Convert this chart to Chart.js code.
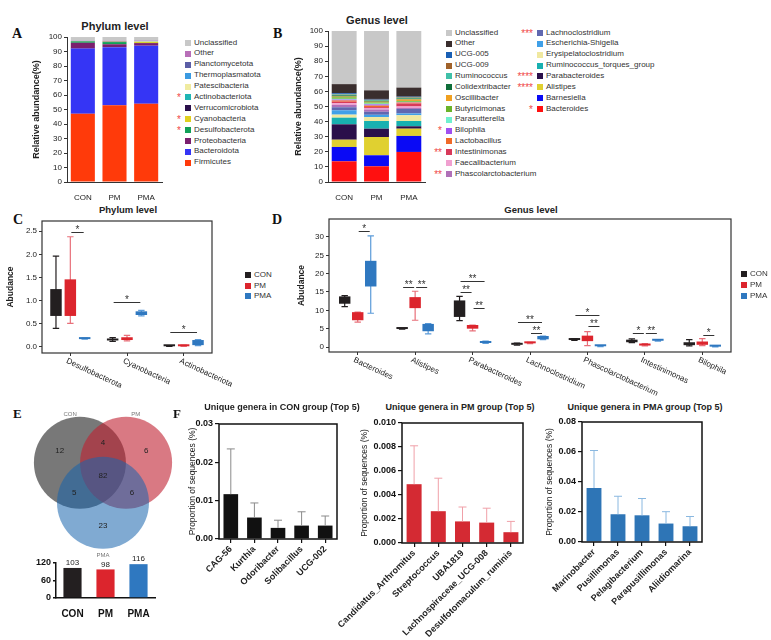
<!DOCTYPE html>
<html>
<head>
<meta charset="utf-8">
<title>Gut microbiota composition</title>
<script src="https://cdn.jsdelivr.net/npm/chart.js@4.4.1/dist/chart.umd.min.js"></script>
<style>
  body { margin: 0; width: 771px; height: 640px; position: relative; overflow: hidden; background: #fff;
         font-family: "Liberation Sans", Arial, sans-serif; color: #222; }
  canvas { position: absolute; }
  .letter { position: absolute; font: bold 14px "Liberation Serif", "Times New Roman", serif; line-height: 1; color: #111; }
  .title { position: absolute; font-weight: bold; line-height: 1; white-space: nowrap; transform: translateX(-50%); }
  .leg { position: absolute; font-size: 8px; color: #333; }
  .leg div { position: relative; padding-left: 9px; white-space: nowrap; }
  .leg i { position: absolute; left: 0; top: 50%; width: 6px; height: 6px; margin-top: -3px; }
  .leg b { position: absolute; right: 100%; top: 1px; margin-right: 4px; color: #f04848; font-weight: normal; font-size: 10px; }
</style>
</head>
<body>
<script>
// ---------- data ----------
const groups = ['CON', 'PM', 'PMA'];

// A: phylum level, stack order bottom -> top, values per group (%)
const phylumNames = ['Firmicutes', 'Bacteroidota', 'Proteobacteria', 'Desulfobacterota', 'Cyanobacteria',
  'Verrucomicrobiota', 'Actinobacteriota', 'Patescibacteria', 'Thermoplasmatota', 'Planctomycetota', 'Other', 'Unclassified'];
const phylumValues = [
  [47, 53, 54], [45, 40, 40], [4, 2, 1.8], [1, 1.5, 0.1], [0.15, 0.2, 0.7], [0.1, 0.2, 0.05],
  [0.02, 0.02, 0.1], [0.1, 0.1, 0.5], [0.05, 0.05, 0.05], [0.05, 0.05, 0.05], [0.3, 0.3, 0.3], [2.2, 2.6, 2.4]];
const phylumStars = ['', '', '', '*', '*', '', '*', '', '', '', '', ''];
const phylumColors = ['#ff3a0a', '#3535f5', '#7a1e6e', '#12a058', '#e0d020', '#2a0f4a',
  '#1fb5b5', '#f0eba0', '#3b9ae1', '#5b5ea6', '#b86fb8', '#c8c8c8'];

// B: genus level, stack order bottom -> top
const genusNames = ['Bacteroides', 'Barnesiella', 'Alistipes', 'Parabacteroides', 'Ruminococcus_torques_group',
  'Erysipelatoclostridium', 'Escherichia-Shigella', 'Lachnoclostridium', 'Phascolarctobacterium', 'Faecalibacterium',
  'Intestinimonas', 'Lactobacillus', 'Bilophila', 'Parasutterella', 'Butyricimonas', 'Oscillibacter',
  'Colidextribacter', 'Ruminococcus', 'UCG-009', 'UCG-005', 'Other', 'Unclassified'];
const genusValues = [
  [13.7, 10.4, 19.9], [9.5, 7.3, 10.6], [4.8, 12.1, 4.8], [10.2, 5.5, 1.6], [4.4, 5.1, 3.5],
  [2.0, 2.6, 3.8], [2.9, 1.5, 1.2], [2.0, 2.0, 3.0], [1.5, 1.5, 0.6], [1.2, 1.0, 1.0],
  [1.0, 0.6, 2.0], [0.8, 1.0, 0.6], [0.6, 0.8, 0.2], [0.5, 0.5, 0.3], [1.0, 0.8, 0.6], [0.5, 0.5, 1.0],
  [0.8, 0.6, 0.6], [0.5, 0.4, 0.5], [0.3, 0.3, 0.4], [0.6, 0.5, 0.3], [6.0, 5.7, 6.0], [35.2, 39.3, 37.5]];
const genusStars = ['*', '', '****', '****', '', '', '', '***', '**', '', '**', '', '*', '', '', '', '', '', '', '', '', ''];
const genusColors = ['#ff1010', '#0a0af5', '#e0d030', '#2a0f4a', '#18b0b0', '#f0e8a0', '#40a0e8', '#6068b0',
  '#b070b8', '#f0a0d0', '#d83a5a', '#f06a28', '#a050f0', '#6ff0d0', '#6ab42a', '#f0a020', '#0f6e3a',
  '#40c0a8', '#a0622a', '#1a5fb4', '#3a2e2e', '#c8c8c8'];

const pctTicks = [0, 10, 20, 30, 40, 50, 60, 70, 80, 90, 100];

// C: phylum boxes [min, q1, q3, max]
const cCats = ['Desulfobacterota', 'Cyanobacteria', 'Actinobacteriota'];
const cCON = [[0.40, 0.67, 1.25, 1.96], [0.12, 0.14, 0.17, 0.20], [0.01, 0.015, 0.025, 0.03]];
const cPM = [[0.51, 0.67, 1.46, 2.38], [0.13, 0.15, 0.21, 0.25], [0.01, 0.015, 0.03, 0.04]];
const cPMA = [[0.17, 0.17, 0.19, 0.19], [0.67, 0.69, 0.77, 0.79], [0.03, 0.04, 0.15, 0.16]];
const cTicks = [0, 0.5, 1, 1.5, 2, 2.5];
// significance: [category, group a, group b, height, label]
const cSig = [[0, 1, 2, 2.49, '*'], [1, 0, 2, 0.97, '*'], [2, 0, 2, 0.33, '*']];

// D: genus boxes [min, q1, q3, max]
const dCats = ['Bacteroides', 'Alistipes', 'Parabacteroides', 'Lachnoclostridium', 'Phascolarctobacterium', 'Intestinimonas', 'Bilophila'];
const dCON = [[11, 11.8, 13.8, 14], [4.9, 4.9, 5.1, 5.1], [7.2, 8.2, 12.7, 13.8], [0.5, 0.6, 1.0, 1.1],
  [1.8, 1.9, 2.1, 2.2], [1.2, 1.3, 2.0, 2.2], [0.3, 0.5, 1.3, 2.0]];
const dPM = [[6.8, 7.3, 9.5, 9.5], [7.3, 10.6, 13.6, 15.2], [4.4, 5.0, 6.0, 6.0], [0.9, 1.0, 1.2, 1.3],
  [0.4, 1.6, 3.1, 4.2], [0.3, 0.4, 0.8, 0.9], [0.4, 0.6, 1.5, 2.3]];
const dPMA = [[9.2, 16.5, 23.5, 30.3], [3.6, 4.3, 6.3, 6.4], [1.0, 1.1, 1.5, 1.6], [2.0, 2.1, 3.0, 3.0],
  [0.1, 0.2, 0.35, 0.4], [1.6, 1.7, 1.9, 2.0], [0.05, 0.1, 0.2, 0.3]];
const dTicks = [0, 5, 10, 15, 20, 25, 30];
const dSig = [[0, 1, 2, 31.7, '*'], [1, 0, 1, 16.4, '**'], [1, 1, 2, 16.4, '**'], [2, 0, 2, 18.0, '**'],
  [2, 0, 1, 15.1, '**'], [2, 1, 2, 10.5, '**'], [3, 0, 2, 6.7, '**'], [3, 1, 2, 3.9, '**'],
  [4, 0, 2, 8.6, '*'], [4, 1, 2, 5.7, '**'], [5, 0, 1, 3.7, '*'], [5, 1, 2, 3.7, '**'], [6, 1, 2, 3.3, '*']];

// E: venn regions and totals
const vennRegionSets = [[0], [1], [2], [0, 1], [0, 2], [1, 2], [0, 1, 2]];
const vennRegionCounts = [12, 6, 23, 4, 5, 6, 82];
const vennTotals = [103, 98, 116];
const eTicks = [0, 60, 120];

// F: unique genera, mean and SD
const fConNames = ['CAG-56', 'Kurthia', 'Odoribacter', 'Solibacillus', 'UCG-002'];
const fConMean = [0.0117, 0.0056, 0.0029, 0.0035, 0.0035];
const fConSd = [0.0118, 0.0038, 0.0020, 0.0036, 0.0025];
const fConTicks = [0, 0.01, 0.02, 0.03];
const fPmNames = ['Candidatus_Arthromitus', 'Streptococcus', 'UBA1819', 'Lachnospiraceae_UCG-008', 'Desulfotomaculum_ruminis'];
const fPmMean = [0.0049, 0.00265, 0.0018, 0.0017, 0.0009];
const fPmSd = [0.0032, 0.00275, 0.0012, 0.0012, 0.0009];
const fPmTicks = [0, 0.002, 0.004, 0.006, 0.008, 0.010];
const fPmaNames = ['Marinobacter', 'Pusillimonas', 'Pelagibacterium', 'Parapusillimonas', 'Aliidiomarina'];
const fPmaMean = [0.036, 0.0185, 0.0178, 0.0123, 0.0105];
const fPmaSd = [0.025, 0.012, 0.0112, 0.0079, 0.0065];
const fPmaTicks = [0, 0.02, 0.04, 0.06, 0.08];

// ---------- styles ----------
const groupFill = ['#231f20', '#dc252d', '#2f78c0'];
const groupWhisker = ['#231f20', '#e8707a', '#5b9bd9'];
const FONT = '"Liberation Sans", Arial, sans-serif';

Chart.defaults.font.family = FONT;
Chart.defaults.font.size = 8;
Chart.defaults.color = '#222';
Chart.defaults.animation = false;
Chart.defaults.responsive = false;
Chart.defaults.events = [];
Chart.defaults.plugins.legend.display = false;
Chart.defaults.plugins.tooltip.enabled = false;

// ---------- helpers ----------
function makeCanvas(left, top, w, h) {
  const c = document.createElement('canvas');
  c.width = w; c.height = h;
  c.style.left = left + 'px'; c.style.top = top + 'px';
  document.body.appendChild(c);
  return c;
}

function addText(cls, text, left, top, size) {
  const d = document.createElement('div');
  d.className = cls;
  d.textContent = text;
  d.style.left = left + 'px'; d.style.top = top + 'px';
  if (size) d.style.fontSize = size + 'px';
  document.body.appendChild(d);
}

function htmlLegend(left, top, rowH, idx, names, colors, stars) {
  const box = document.createElement('div');
  box.className = 'leg';
  box.style.left = left + 'px'; box.style.top = top + 'px';
  idx.forEach(i => {
    const row = document.createElement('div');
    row.style.height = rowH + 'px'; row.style.lineHeight = rowH + 'px';
    row.innerHTML = (stars && stars[i] ? '<b>' + stars[i] + '</b>' : '') +
      '<i style="background:' + colors[i] + '"></i>' + names[i];
    box.appendChild(row);
  });
  document.body.appendChild(box);
}

// y title placed so its centre sits at absolute x
function yTitle(text, x, canvasLeft, size, bold) {
  return { display: true, text: text, font: { size: size, weight: bold ? 'bold' : 'normal' },
           padding: { top: x - canvasLeft - size * 0.6, bottom: 0 } };
}

const ticksFrom = arr => s => { s.ticks = arr.map(value => ({ value })); };

const framePlugin = {
  id: 'frame',
  afterDraw(chart, args, opts) {
    const a = chart.chartArea, c = chart.ctx;
    c.save();
    c.strokeStyle = opts.color || '#333';
    c.lineWidth = opts.width || 1;
    c.strokeRect(a.left, a.top, a.right - a.left, a.bottom - a.top);
    c.restore();
  }
};

const whiskerPlugin = {
  id: 'whiskers',
  beforeDatasetsDraw(chart) {
    const c = chart.ctx, y = chart.scales.y;
    chart.data.datasets.forEach((ds, i) => {
      if (!ds.whiskers) return;
      c.save();
      c.strokeStyle = ds.whiskerColor;
      c.lineWidth = 1.2;
      chart.getDatasetMeta(i).data.forEach((bar, j) => {
        const lo = y.getPixelForValue(ds.whiskers[j][0]);
        const hi = y.getPixelForValue(ds.whiskers[j][1]);
        const cap = bar.width * 0.28;
        c.beginPath();
        c.moveTo(bar.x, lo); c.lineTo(bar.x, hi);
        c.moveTo(bar.x - cap, lo); c.lineTo(bar.x + cap, lo);
        c.moveTo(bar.x - cap, hi); c.lineTo(bar.x + cap, hi);
        c.stroke();
      });
      c.restore();
    });
  }
};

const sigPlugin = {
  id: 'sigBars',
  afterDatasetsDraw(chart, args, opts) {
    const c = chart.ctx, y = chart.scales.y;
    c.save();
    c.strokeStyle = '#333'; c.fillStyle = '#333'; c.lineWidth = 1;
    c.font = '10px ' + FONT; c.textAlign = 'center'; c.textBaseline = 'bottom';
    (opts.marks || []).forEach(m => {
      const xa = chart.getDatasetMeta(m[1]).data[m[0]].x + 1;
      const xb = chart.getDatasetMeta(m[2]).data[m[0]].x - 1;
      const py = Math.round(y.getPixelForValue(m[3])) + 0.5;
      c.beginPath(); c.moveTo(xa, py); c.lineTo(xb, py); c.stroke();
      c.fillText(m[4], (xa + xb) / 2, py + 3);
    });
    c.restore();
  }
};

const slantLabels = {
  id: 'slantLabels',
  afterDraw(chart) {
    const x = chart.scales.x, a = chart.chartArea, c = chart.ctx;
    c.save();
    c.fillStyle = '#222'; c.font = '8px ' + FONT; c.textAlign = 'left'; c.textBaseline = 'top';
    chart.data.labels.forEach((lab, i) => {
      c.save();
      c.translate(x.getPixelForTick(i) - 2, a.bottom + 4);
      c.rotate(25 * Math.PI / 180);
      c.fillText(lab, 0, 0);
      c.restore();
    });
    c.restore();
  }
};

const errorBars = {
  id: 'errorBars',
  afterDatasetsDraw(chart) {
    const c = chart.ctx, y = chart.scales.y;
    chart.data.datasets.forEach((ds, i) => {
      if (!ds.sd) return;
      c.save();
      c.strokeStyle = ds.sdColor; c.lineWidth = 1;
      chart.getDatasetMeta(i).data.forEach((bar, j) => {
        const top = y.getPixelForValue(ds.data[j] + ds.sd[j]);
        c.beginPath();
        c.moveTo(bar.x, bar.y); c.lineTo(bar.x, top);
        c.moveTo(bar.x - 4, top); c.lineTo(bar.x + 4, top);
        c.stroke();
      });
      c.restore();
    });
  }
};

const barValues = {
  id: 'barValues',
  afterDatasetsDraw(chart) {
    const c = chart.ctx, ds = chart.data.datasets[0];
    c.save();
    c.font = '8px ' + FONT; c.fillStyle = '#222'; c.textAlign = 'center'; c.textBaseline = 'bottom';
    chart.getDatasetMeta(0).data.forEach((bar, i) => c.fillText(ds.data[i], bar.x, bar.y - 1));
    c.restore();
  }
};

// ---------- A ----------
addText('letter', 'A', 12, 27);
addText('title', 'Phylum level', 115, 21, 11);
new Chart(makeCanvas(0, 0, 170, 200), {
  type: 'bar',
  data: {
    labels: groups,
    datasets: phylumNames.map((n, i) => ({ label: n, data: phylumValues[i], backgroundColor: phylumColors[i],
      borderWidth: 0, barPercentage: 0.76, categoryPercentage: 1 }))
  },
  options: {
    layout: { padding: { left: 0, top: 37, right: 8, bottom: 0 } },
    scales: {
      x: { stacked: true, grid: { display: false }, border: { color: '#333' }, ticks: { padding: 3 },
           afterFit: s => { s.height = 18; s.paddingLeft = s.paddingRight = 0; } },
      y: { stacked: true, min: 0, max: 100, afterBuildTicks: ticksFrom(pctTicks), ticks: { padding: 2 },
           grid: { drawOnChartArea: false, tickLength: 3, color: '#333' }, border: { color: '#333' },
           title: yTitle('Relative abundance(%)', 37, 0, 9, true),
           afterFit: s => { s.width = 67; s.paddingTop = s.paddingBottom = 0; } }
    }
  }
});
htmlLegend(185, 37.5, 10.9, phylumNames.map((n, i) => i).reverse(), phylumNames, phylumColors, phylumStars);

// ---------- B ----------
addText('letter', 'B', 273, 27);
addText('title', 'Genus level', 377, 15, 11);
new Chart(makeCanvas(280, 0, 150, 200), {
  type: 'bar',
  data: {
    labels: groups,
    datasets: genusNames.map((n, i) => ({ label: n, data: genusValues[i], backgroundColor: genusColors[i],
      borderWidth: 0, barPercentage: 0.77, categoryPercentage: 1 }))
  },
  options: {
    layout: { padding: { left: 0, top: 31, right: 5, bottom: 0 } },
    scales: {
      x: { stacked: true, grid: { display: false }, border: { color: '#333' }, ticks: { padding: 3 },
           afterFit: s => { s.height = 18; s.paddingLeft = s.paddingRight = 0; } },
      y: { stacked: true, min: 0, max: 100, afterBuildTicks: ticksFrom(pctTicks), ticks: { padding: 2 },
           grid: { drawOnChartArea: false, tickLength: 3, color: '#333' }, border: { color: '#333' },
           title: yTitle('Relative abundance(%)', 299, 280, 9, true),
           afterFit: s => { s.width = 48; s.paddingTop = s.paddingBottom = 0; } }
    }
  }
});
const genusOrder = genusNames.map((n, i) => i).reverse();
htmlLegend(446, 27.6, 10.85, genusOrder.slice(0, 14), genusNames, genusColors, genusStars);
htmlLegend(537, 27.6, 10.85, genusOrder.slice(14), genusNames, genusColors, genusStars);

// ---------- C / D box plots ----------
function boxDatasets(boxSets) {
  return boxSets.map((boxes, g) => ({
    label: groups[g],
    data: boxes.map(b => [b[1], b[2]]),
    whiskers: boxes.map(b => [b[0], b[3]]),
    backgroundColor: groupFill[g], borderWidth: 0, minBarLength: 2,
    whiskerColor: groupWhisker[g]
  }));
}

function boxChart(left, top, w, h, o) {
  new Chart(makeCanvas(left, top, w, h), {
    type: 'bar',
    data: { labels: o.cats, datasets: boxDatasets(o.boxes) },
    options: {
      layout: { padding: { left: 0, top: o.padTop, right: o.padRight, bottom: 0 } },
      datasets: { bar: { categoryPercentage: o.catPct, barPercentage: o.barPct } },
      scales: {
        x: { ticks: { display: false }, grid: { offset: false, drawOnChartArea: false, tickLength: 3, color: '#333' },
             border: { display: false },
             afterFit: s => { s.height = o.xH; s.paddingLeft = s.paddingRight = 0; } },
        y: { min: o.yMin, max: o.yMax, afterBuildTicks: ticksFrom(o.ticks),
             ticks: { callback: o.fmt, padding: 2 },
             grid: { drawOnChartArea: false, tickLength: 3, color: '#333' }, border: { display: false },
             title: yTitle('Abudance', o.titleX, left, 8.5, true),
             afterFit: s => { s.width = o.yW; s.paddingTop = s.paddingBottom = 0; } }
      },
      plugins: { sigBars: { marks: o.sigs }, frame: { color: '#333', width: 1.2 } }
    },
    plugins: [whiskerPlugin, sigPlugin, slantLabels, framePlugin]
  });
}

addText('letter', 'C', 13, 213);
addText('title', 'Phylum level', 128, 205, 9.5);
boxChart(0, 205, 245, 190, {
  cats: cCats, boxes: [cCON, cPM, cPMA], sigs: cSig, yMin: -0.13, yMax: 2.72, ticks: cTicks,
  fmt: v => v.toFixed(1), titleX: 11, yW: 42, xH: 42, padTop: 16, padRight: 33, catPct: 0.76, barPct: 0.8
});
htmlLegend(245, 270, 10.5, [0, 1, 2], groups, groupFill, null);

addText('letter', 'D', 272, 213);
addText('title', 'Genus level', 531, 205, 9.5);
boxChart(280, 205, 480, 195, {
  cats: dCats, boxes: [dCON, dPM, dPMA], sigs: dSig, yMin: -1.36, yMax: 34.9, ticks: dTicks,
  fmt: v => v.toFixed(0), titleX: 302, yW: 49, xH: 48, padTop: 14, padRight: 29, catPct: 0.68, barPct: 0.88
});
htmlLegend(741, 269, 10.8, [0, 1, 2], groups, groupFill, null);

// ---------- E: venn + totals ----------
addText('letter', 'E', 13, 407, 13);
const vennAngles = [150, 30, 270];
const vennDist = 0.4, vennR = 0.69;
const vennLabelAngles = [118, 62, 270], vennLabelDist = [1.05, 1.05, 1.19];
const vennColors = ['rgba(50,50,50,0.66)', 'rgba(192,32,48,0.6)', 'rgba(24,100,173,0.55)'];
const polar = (a, d) => ({ x: d * Math.cos(a * Math.PI / 180), y: d * Math.sin(a * Math.PI / 180) });
const vennCenters = vennAngles.map(a => polar(a, vennDist));

function regionPos(sets) {
  if (sets.length === 3) return { x: 0, y: 0 };
  let vx = 0, vy = 0;
  sets.forEach(s => { const u = polar(vennAngles[s], 1); vx += u.x; vy += u.y; });
  const len = Math.hypot(vx, vy), d = sets.length === 1 ? 0.75 : 0.5;
  return { x: vx / len * d, y: vy / len * d };
}

const vennText = {
  id: 'vennText',
  afterDatasetsDraw(chart) {
    const x = chart.scales.x, y = chart.scales.y, c = chart.ctx;
    c.save();
    c.textAlign = 'center'; c.textBaseline = 'middle';
    c.font = '8px ' + FONT; c.fillStyle = '#222';
    vennRegionCounts.forEach((n, i) => {
      const p = regionPos(vennRegionSets[i]);
      c.fillText(n, x.getPixelForValue(p.x), y.getPixelForValue(p.y));
    });
    c.font = '6px ' + FONT; c.fillStyle = '#777';
    groups.forEach((g, i) => {
      const p = polar(vennLabelAngles[i], vennLabelDist[i]);
      c.fillText(g, x.getPixelForValue(p.x), y.getPixelForValue(p.y));
    });
    c.restore();
  }
};

new Chart(makeCanvas(13, 386, 180, 180), {
  type: 'scatter',
  data: {
    datasets: groups.map((g, i) => ({
      label: g, data: [vennCenters[i]], order: 2 - i,
      backgroundColor: vennColors[i], borderWidth: 0,
      pointRadius: ctx => Math.abs(ctx.chart.scales.x.getPixelForValue(vennR) - ctx.chart.scales.x.getPixelForValue(0))
    }))
  },
  options: {
    layout: { padding: 0 },
    scales: { x: { display: false, min: -1.35, max: 1.35 }, y: { display: false, min: -1.35, max: 1.35 } }
  },
  plugins: [vennText]
});

new Chart(makeCanvas(0, 545, 160, 75), {
  type: 'bar',
  data: { labels: groups, datasets: [{ data: vennTotals, backgroundColor: groupFill, borderWidth: 0,
    barPercentage: 0.55, categoryPercentage: 1 }] },
  options: {
    layout: { padding: { left: 0, top: 18, right: 5, bottom: 0 } },
    scales: {
      x: { grid: { display: false }, border: { color: '#111', width: 1.5 },
           ticks: { font: { size: 10, weight: 'bold' }, color: '#111', padding: 2 },
           afterFit: s => { s.height = 22; s.paddingLeft = s.paddingRight = 0; } },
      y: { min: 0, max: 120, afterBuildTicks: ticksFrom(eTicks),
           ticks: { font: { size: 9, weight: 'bold' }, color: '#111', padding: 2 },
           grid: { drawOnChartArea: false, tickLength: 3, color: '#111', lineWidth: 1.5 }, border: { color: '#111', width: 1.5 },
           afterFit: s => { s.width = 56; s.paddingTop = s.paddingBottom = 0; } }
    }
  },
  plugins: [barValues]
});

// ---------- F: unique genera ----------
addText('letter', 'F', 173, 407, 13);
function uniqueChart(left, top, w, h, o) {
  new Chart(makeCanvas(left, top, w, h), {
    type: 'bar',
    data: { labels: o.names, datasets: [{ data: o.mean, sd: o.sd, sdColor: o.sdColor, backgroundColor: o.color,
      borderWidth: 0, barPercentage: 0.62, categoryPercentage: 1 }] },
    options: {
      layout: { padding: { left: 0, top: 6, right: 3, bottom: 0 } },
      scales: {
        x: { grid: { offset: false, drawOnChartArea: false, tickLength: 4, color: '#111', lineWidth: 1.2 },
             border: { display: false },
             ticks: { autoSkip: false, minRotation: 45, maxRotation: 45, font: { size: 9, weight: 'bold' }, color: '#222', padding: 1 },
             afterFit: s => { s.height = o.xH; s.paddingLeft = s.paddingRight = 0; } },
        y: { min: 0, max: o.ticks[o.ticks.length - 1], afterBuildTicks: ticksFrom(o.ticks),
             ticks: { callback: v => v.toFixed(o.digits), font: { size: 9, weight: 'bold' }, color: '#111', padding: 2 },
             grid: { drawOnChartArea: false, tickLength: 4, color: '#111', lineWidth: 1.2 }, border: { display: false },
             title: yTitle('Proportion of sequences (%)', o.titleX, left, 8.5, false),
             afterFit: s => { s.width = o.yW; s.paddingTop = s.paddingBottom = 0; } }
      },
      plugins: { frame: { color: '#111', width: 1.5 } }
    },
    plugins: [errorBars, framePlugin]
  });
}

addText('title', 'Unique genera in CON group (Top 5)', 282, 403, 9);
uniqueChart(180, 418, 160, 170, { names: fConNames, mean: fConMean, sd: fConSd, ticks: fConTicks, digits: 2,
  color: '#111', sdColor: '#8a8a8a', titleX: 193, yW: 39, xH: 49 });

addText('title', 'Unique genera in PM group (Top 5)', 460, 403, 9);
uniqueChart(320, 417, 206, 223, { names: fPmNames, mean: fPmMean, sd: fPmSd, ticks: fPmTicks, digits: 3,
  color: '#d42a33', sdColor: '#f0a0a8', titleX: 365, yW: 82, xH: 97 });

addText('title', 'Unique genera in PMA group (Top 5)', 645, 403, 9);
uniqueChart(530, 416, 175, 224, { names: fPmaNames, mean: fPmaMean, sd: fPmaSd, ticks: fPmaTicks, digits: 2,
  color: '#2e75b6', sdColor: '#8ab8e0', titleX: 550, yW: 52, xH: 98 });
</script>
</body>
</html>
